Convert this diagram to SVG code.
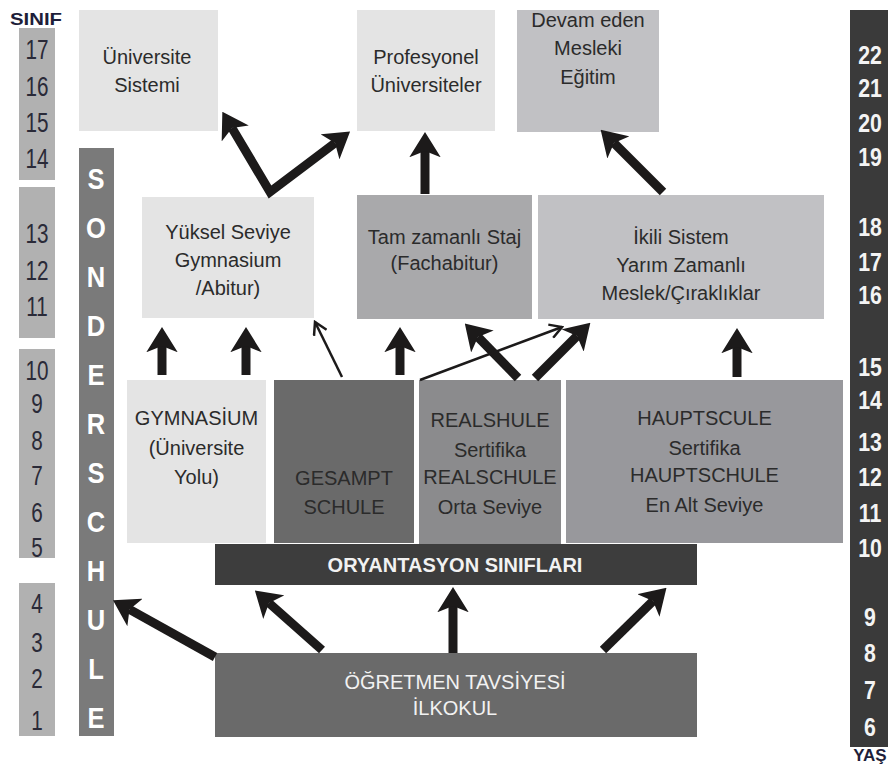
<svg xmlns="http://www.w3.org/2000/svg" width="890" height="771" viewBox="0 0 890 771">
<style>
.t{font-family:"Liberation Sans",Arial,sans-serif;font-size:20px;fill:#2b2b2b;text-anchor:middle}
.w{fill:#f2f2f2}
.b{font-weight:bold}
.ln{font-family:"Liberation Sans",Arial,sans-serif;font-size:28px;fill:#2a2a38;text-anchor:middle}
.rn{font-family:"Liberation Sans",Arial,sans-serif;font-size:25px;font-weight:bold;fill:#f4f4f4;text-anchor:middle}
.sl{font-family:"Liberation Sans",Arial,sans-serif;font-size:30px;font-weight:bold;fill:#ffffff;text-anchor:middle}
.ar{stroke:#1c1a1a;stroke-width:9;fill:none;marker-end:url(#hd)}
.thin{stroke:#1c1a1a;stroke-width:2.5;fill:none;marker-end:url(#op)}
</style>
<defs>
<marker id="hd" viewBox="0 0 8 10" markerWidth="2.8" markerHeight="3.5" refX="2" refY="5" orient="auto" markerUnits="strokeWidth">
<path d="M0,0 L8,5 L0,10 L2,5 z" fill="#1c1a1a"/>
</marker>
<marker id="hds" viewBox="0 0 8 10" markerWidth="2.8" markerHeight="3.5" refX="2" refY="5" orient="auto-start-reverse" markerUnits="strokeWidth">
<path d="M0,0 L8,5 L0,10 L2,5 z" fill="#1c1a1a"/>
</marker>
<marker id="op" viewBox="0 0 16 16" markerWidth="16" markerHeight="16" refX="14" refY="8" orient="auto" markerUnits="userSpaceOnUse">
<path d="M2,1 L14,8 L2,15" fill="none" stroke="#1c1a1a" stroke-width="2.5"/>
</marker>
</defs>

<!-- left grade column -->
<g id="sinif">
<text x="10" y="25" font-family="Liberation Sans,Arial,sans-serif" font-size="17" font-weight="bold" fill="#1e1e3a" textLength="52" lengthAdjust="spacingAndGlyphs">SINIF</text>
<rect x="19" y="28" width="36" height="152" fill="#b1b1b1"/>
<rect x="19" y="187" width="36" height="151" fill="#b1b1b1"/>
<rect x="19" y="349" width="36" height="209" fill="#b1b1b1"/>
<rect x="19" y="583" width="36" height="153" fill="#b1b1b1"/>
<g transform="translate(37,0) scale(0.74,1)">
<text class="ln" x="0" y="59">17</text>
<text class="ln" x="0" y="96">16</text>
<text class="ln" x="0" y="132">15</text>
<text class="ln" x="0" y="168">14</text>
<text class="ln" x="0" y="243">13</text>
<text class="ln" x="0" y="280">12</text>
<text class="ln" x="0" y="316">11</text>
<text class="ln" x="0" y="380">10</text>
<text class="ln" x="0" y="413">9</text>
<text class="ln" x="0" y="450">8</text>
<text class="ln" x="0" y="485">7</text>
<text class="ln" x="0" y="522">6</text>
<text class="ln" x="0" y="557">5</text>
<text class="ln" x="0" y="613">4</text>
<text class="ln" x="0" y="652">3</text>
<text class="ln" x="0" y="688">2</text>
<text class="ln" x="0" y="730">1</text>
</g>
</g>

<!-- right age column -->
<g id="yas">
<rect x="850" y="10" width="38" height="737" fill="#3a3a3a"/>
<g transform="translate(870,0) scale(0.85,1)">
<text class="rn" x="0" y="64">22</text>
<text class="rn" x="0" y="97">21</text>
<text class="rn" x="0" y="132">20</text>
<text class="rn" x="0" y="166">19</text>
<text class="rn" x="0" y="236">18</text>
<text class="rn" x="0" y="271">17</text>
<text class="rn" x="0" y="304">16</text>
<text class="rn" x="0" y="376">15</text>
<text class="rn" x="0" y="409">14</text>
<text class="rn" x="0" y="451">13</text>
<text class="rn" x="0" y="486">12</text>
<text class="rn" x="0" y="522">11</text>
<text class="rn" x="0" y="557">10</text>
<text class="rn" x="0" y="626">9</text>
<text class="rn" x="0" y="662">8</text>
<text class="rn" x="0" y="699">7</text>
<text class="rn" x="0" y="736">6</text>
</g>
<text x="870" y="761" font-family="Liberation Sans,Arial,sans-serif" font-size="17" font-weight="bold" fill="#1e1e3a" text-anchor="middle">YAŞ</text>
</g>

<!-- Sonderschule -->
<g id="sonderschule">
<rect x="79" y="148" width="35" height="588" fill="#7a7a7a"/>
<g transform="translate(96,0) scale(0.85,1)">
<text class="sl" x="0" y="189">S</text>
<text class="sl" x="0" y="238">O</text>
<text class="sl" x="0" y="287">N</text>
<text class="sl" x="0" y="336">D</text>
<text class="sl" x="0" y="385">E</text>
<text class="sl" x="0" y="434">R</text>
<text class="sl" x="0" y="483">S</text>
<text class="sl" x="0" y="532">C</text>
<text class="sl" x="0" y="581">H</text>
<text class="sl" x="0" y="630">U</text>
<text class="sl" x="0" y="679">L</text>
<text class="sl" x="0" y="728">E</text>
</g>
</g>

<!-- top row -->
<g id="universite">
<rect x="79" y="10" width="139" height="121" fill="#e4e4e4"/>
<text class="t" x="147" y="64">Üniversite</text>
<text class="t" x="147" y="92">Sistemi</text>
</g>
<g id="profesyonel">
<rect x="357" y="10" width="138" height="121" fill="#e4e4e4"/>
<text class="t" x="426" y="64">Profesyonel</text>
<text class="t" x="426" y="92">Üniversiteler</text>
</g>
<g id="devam">
<rect x="517" y="10" width="142" height="122" fill="#c1c1c4"/>
<text class="t" x="588" y="27">Devam eden</text>
<text class="t" x="588" y="55">Mesleki</text>
<text class="t" x="588" y="84">Eğitim</text>
</g>

<!-- middle row -->
<g id="yuksel">
<rect x="142" y="197" width="172" height="121" fill="#e4e4e4"/>
<text class="t" x="228" y="239">Yüksel Seviye</text>
<text class="t" x="228" y="267">Gymnasium</text>
<text class="t" x="228" y="295">/Abitur)</text>
</g>
<g id="tamzamanli">
<rect x="357" y="195" width="175" height="124" fill="#a9a9ab"/>
<text class="t" x="444.5" y="244">Tam zamanlı Staj</text>
<text class="t" x="444.5" y="270">(Fachabitur)</text>
</g>
<g id="ikili">
<rect x="538" y="195" width="286" height="124" fill="#c1c1c4"/>
<text class="t" x="681" y="244">İkili Sistem</text>
<text class="t" x="681" y="272">Yarım Zamanlı</text>
<text class="t" x="681" y="300">Meslek/Çıraklıklar</text>
</g>

<!-- bottom school row -->
<g id="gymnasium">
<rect x="127" y="380" width="139" height="163" fill="#e4e4e4"/>
<text class="t" x="196.5" y="425">GYMNASİUM</text>
<text class="t" x="196.5" y="455">(Üniversite</text>
<text class="t" x="196.5" y="484">Yolu)</text>
</g>
<g id="gesampt">
<rect x="274" y="380" width="140" height="163" fill="#6a6a6a"/>
<text class="t" x="344" y="485" fill="#222">GESAMPT</text>
<text class="t" x="344" y="514" fill="#222">SCHULE</text>
</g>
<g id="realshule">
<rect x="419" y="380" width="142" height="165" fill="#8b8b8d"/>
<text class="t" x="490" y="427">REALSHULE</text>
<text class="t" x="490" y="457">Sertifika</text>
<text class="t" x="490" y="484" font-size="17.5">REALSCHULE</text>
<text class="t" x="490" y="514">Orta Seviye</text>
</g>
<g id="hauptschule">
<rect x="566" y="380" width="277" height="163" fill="#98989c"/>
<text class="t" x="704.5" y="425">HAUPTSCULE</text>
<text class="t" x="704.5" y="455">Sertifika</text>
<text class="t" x="704.5" y="482">HAUPTSCHULE</text>
<text class="t" x="704.5" y="512">En Alt Seviye</text>
</g>

<g id="oryantasyon">
<rect x="215" y="544" width="482" height="41" fill="#3d3d3d"/>
<text class="t w b" x="455" y="572" font-size="19.5">ORYANTASYON SINIFLARI</text>
</g>
<g id="ilkokul">
<rect x="215" y="653" width="482" height="84" fill="#6a6a6a"/>
<text class="t w" x="455" y="689">ÖĞRETMEN TAVSİYESİ</text>
<text class="t w" x="455" y="715">İLKOKUL</text>
</g>

<!-- connectors -->
<g id="connectors">
<line class="ar" x1="215" y1="657" x2="129.5" y2="609.4"/>
<line class="ar" x1="322" y1="650" x2="269" y2="603"/>
<line class="ar" x1="453" y1="653" x2="453" y2="606"/>
<line class="ar" x1="603" y1="650" x2="653" y2="601"/>

<line class="ar" x1="162" y1="375" x2="162" y2="346"/>
<line class="ar" x1="246" y1="375" x2="246" y2="346"/>
<line class="thin" x1="342" y1="377" x2="315" y2="322"/>
<line class="ar" x1="400" y1="375" x2="400" y2="346"/>
<line class="ar" x1="518" y1="378" x2="478" y2="337"/>
<line class="thin" x1="420" y1="380" x2="562" y2="327"/>
<line class="ar" x1="535" y1="378" x2="577" y2="336"/>
<line class="ar" x1="737" y1="377" x2="737" y2="347"/>

<path class="ar" d="M232,128 L270,192 L335,143" stroke-linejoin="miter" marker-start="url(#hds)"/>
<line class="ar" x1="425" y1="194" x2="425" y2="151"/>
<line class="ar" x1="663" y1="192" x2="614" y2="143" stroke-width="6"/>
</g>
</svg>
